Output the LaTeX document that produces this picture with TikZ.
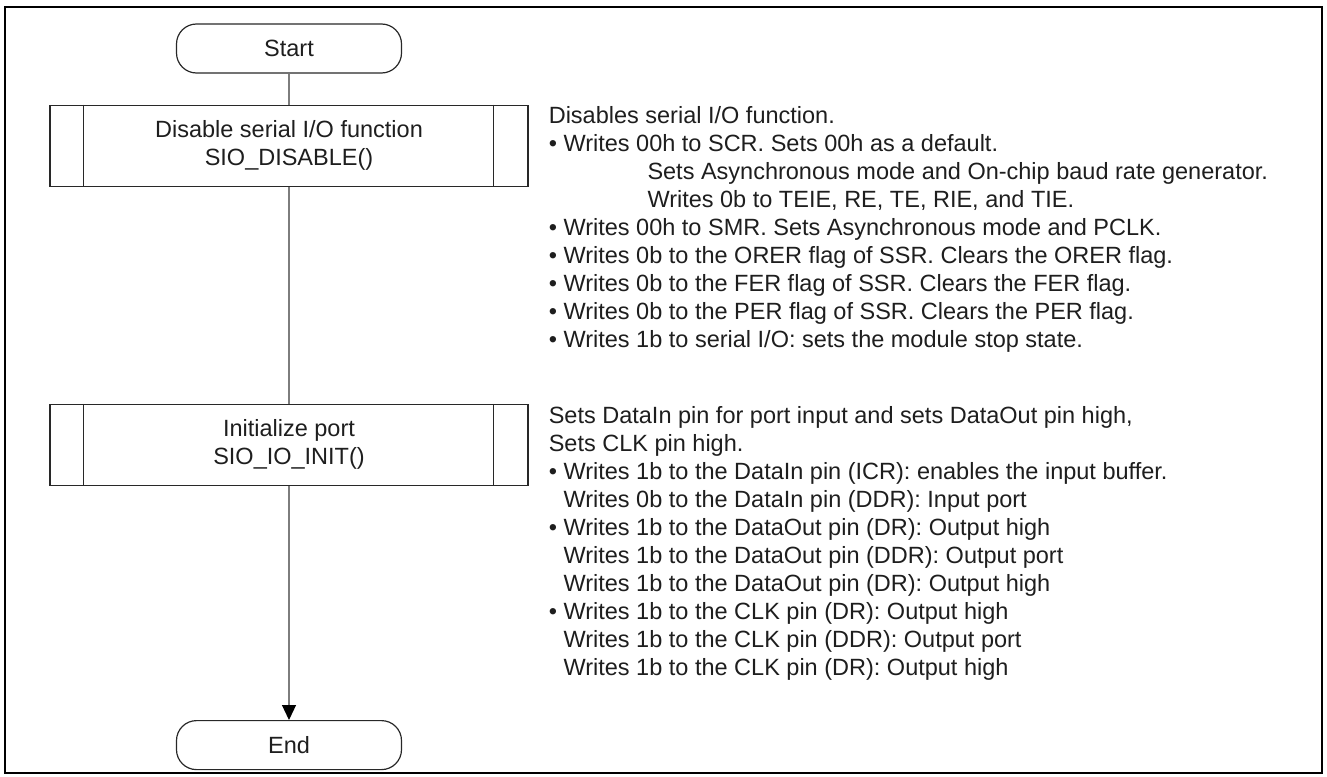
\documentclass[tikz,border=0pt]{standalone}
\usepackage{fontspec}
\setmainfont{Liberation Sans}
\usetikzlibrary{positioning,arrows.meta}
\definecolor{colorline}{RGB}{40,40,40}
\definecolor{colorflow}{RGB}{125,125,125}
\definecolor{colortext}{RGB}{30,30,30}

\begin{document}
\begin{tikzpicture}[
    node distance = 31pt,
    font={\fontsize{23.5}{28}\selectfont},
    terminal/.style={draw=colorline,line width=1.2pt,rounded corners=20pt,minimum width=225pt,minimum height=49pt,text=colortext},
    subroutine/.style={draw=colorline,line width=1.2pt,minimum width=478pt,minimum height=81pt,align=center,text=colortext},
    note/.style={text=colortext,align=left,inner sep=0pt,anchor=north west},
    flow/.style={draw=colorflow,line width=1.2pt},
]
    \useasboundingbox (0,0) rectangle (1327pt,-776pt);
    \draw[line width=2.5pt] (5pt,-7pt) rectangle (1322pt,-773pt);

    % Flow
    \node[terminal] (start) at (289pt,-48.5pt) {Start};
    \node[subroutine, below=of start] (disable) {Disable serial I/O function\\SIO\_DISABLE()};
    \node[subroutine, below=217pt of disable] (init) {Initialize port\\SIO\_IO\_INIT()};
    \node[terminal, below=234pt of init] (end) {End};

    % Side bars
    \foreach \n in {disable,init} {
        \draw[line width=1.2pt,colorline] ([xshift=34pt]\n.north west) -- ([xshift=34pt]\n.south west);
        \draw[line width=1.2pt,colorline] ([xshift=-35pt]\n.north east) -- ([xshift=-35pt]\n.south east);
    }

    % Connectors
    \draw[flow] (start) -- (disable);
    \draw[flow] (disable) -- (init);
    \draw[flow,-{Triangle[length=15pt,width=14pt,color=black]}] (init) -- (end);

    % Notes
    \node[note] (disnote) at ([xshift=20pt,yshift=-2pt]disable.north east) {Disables serial I/O function.\\
        \textbullet\ Writes 00h to SCR. Sets 00h as a default.\\
        \hspace*{4.2em}Sets Asynchronous mode and On-chip baud rate generator.\\
        \hspace*{4.2em}Writes 0b to TEIE, RE, TE, RIE, and TIE.\\
        \textbullet\ Writes 00h to SMR. Sets Asynchronous mode and PCLK.\\
        \textbullet\ Writes 0b to the ORER flag of SSR. Clears the ORER flag.\\
        \textbullet\ Writes 0b to the FER flag of SSR. Clears the FER flag.\\
        \textbullet\ Writes 0b to the PER flag of SSR. Clears the PER flag.\\
        \textbullet\ Writes 1b to serial I/O: sets the module stop state.};
    \node[note] (initnote) at ([xshift=20pt,yshift=-2pt]init.north east) {Sets DataIn pin for port input and sets DataOut pin high,\\
        Sets CLK pin high.\\
        \textbullet\ Writes 1b to the DataIn pin (ICR): enables the input buffer.\\
        \hphantom{\textbullet\ }Writes 0b to the DataIn pin (DDR): Input port\\
        \textbullet\ Writes 1b to the DataOut pin (DR): Output high\\
        \hphantom{\textbullet\ }Writes 1b to the DataOut pin (DDR): Output port\\
        \hphantom{\textbullet\ }Writes 1b to the DataOut pin (DR): Output high\\
        \textbullet\ Writes 1b to the CLK pin (DR): Output high\\
        \hphantom{\textbullet\ }Writes 1b to the CLK pin (DDR): Output port\\
        \hphantom{\textbullet\ }Writes 1b to the CLK pin (DR): Output high};

\end{tikzpicture}
\end{document}
